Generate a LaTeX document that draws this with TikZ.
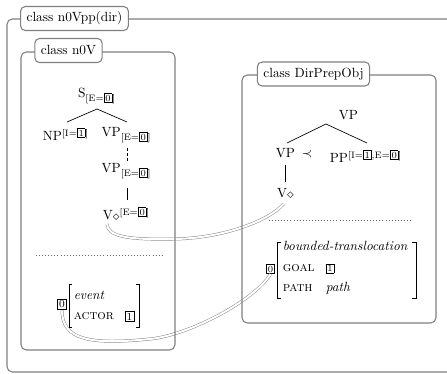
\documentclass[tikz,border=0pt]{standalone}
\usetikzlibrary{calc}
\newcommand{\tg}[1]{{\setlength{\fboxsep}{0.7pt}\setlength{\fboxrule}{0.5pt}\fbox{\scriptsize #1}}}
\newcommand{\tgb}[1]{{\setlength{\fboxsep}{0.9pt}\setlength{\fboxrule}{0.5pt}\fbox{\footnotesize #1}}}
\newcommand{\dmd}{\raisebox{-0.3pt}{$\diamond$}}
\begin{document}
\begin{tikzpicture}[x=0.75pt,y=-0.75pt,
  frame/.style={draw=black!50, line width=0.8pt, rounded corners=4pt},
  ttl/.style={draw=black!50, line width=0.8pt, rounded corners=3.5pt, fill=white, inner xsep=4.5pt, minimum height=18pt},
  lab/.style={inner sep=0pt},
  br/.style={line width=0.7pt},
  link/.style={draw=black!50, line width=0.35pt, double=white, double distance=1.5pt},
  sep/.style={draw=black!60, line width=0.6pt, dash pattern=on 0.6pt off 1.7pt},
  tline/.style={line width=0.5pt}]
\useasboundingbox (0,0) rectangle (447,374);

% connectors (links between the two classes)
\node[lab] (tagA) at (62,304.5) {\tgb{0}};
\node[lab] (tagB) at (270.5,269) {\tg{0}};
\node[lab, anchor=base] (v1) at (126.5,220) {V\dmd\textsuperscript{[E=\tg{0}]}};
\node[lab, anchor=base] (v2) at (285.5,198) {V\dmd};

\draw[link] ($(v1.base)+(-19.5,4)$) .. controls (108,236) and (125,240) .. (175,239)
   .. controls (225,238) and (270,220) .. ($(v2.base)+(-2,6)$);
\draw[link] (tagA.south) .. controls (62,340) and (90,345) .. (150,339)
   .. controls (190,335) and (255,300) .. (tagB.south);

% frames
\draw[frame] (7,19) rectangle (480,372);
\node[ttl] (t0) at (74.5,18.5) {class n0Vpp(dir)};
\draw[frame] (21,52) rectangle (175,350);
\node[ttl] (t1) at (68.5,50.5) {class n0V};
\draw[frame] (242,75) rectangle (436,323);
\node[ttl] (t2) at (313.5,74) {class DirPrepObj};

% tree 1
\node[lab, anchor=base] (s1) at (97,98) {S\textsubscript{[E=\tg{0}]}};
\node[lab, anchor=base] (np1) at (66,141) {NP\textsuperscript{[I=\tg{1}]}};
\node[lab, anchor=base] (vp1) at (126.5,137) {VP\textsubscript{[E=\tg{0}]}};
\node[lab, anchor=base] (vp2) at (126.5,173) {VP\textsubscript{[E=\tg{0}]}};
\draw[tline] ($(s1.base)+(0,11)$) -- ($(np1.base)+(1,-19)$);
\draw[tline] ($(s1.base)+(0,11)$) -- ($(vp1.base)+(0.5,-15)$);
\draw[tline, dash pattern=on 2.2pt off 1.6pt] ($(vp1.base)+(0.5,11)$) -- ($(vp2.base)+(0.5,-11)$);
\draw[tline] ($(vp2.base)+(0.5,15)$) -- ($(v1.base)+(0.5,-20)$);

\draw[sep] (36,255) -- (162,255);

% AVM 1
\draw[br] (72,284) -- (69,284) -- (69,327.5) -- (72,327.5);
\draw[br] (136,284) -- (139,284) -- (139,327.5) -- (136,327.5);
\node[lab, anchor=base west] (ev) at (73.5,300) {\textit{event}};
\node[lab, anchor=base west] (act) at (73.5,320) {\textsc{actor}};
\node[lab] (one1) at (129.5,316.5) {\tgb{1}};

% tree 2
\node[lab, anchor=base] (vpt) at (348.5,120) {VP};
\node[lab, anchor=base] (vpl) at (285.5,158) {VP};
\node[lab, anchor=base] (prec) at (307,157.5) {$\prec$};
\node[lab, anchor=base] (pp) at (366,163) {PP\textsuperscript{[I=\tg{1},E=\tg{0}]}};
\draw[tline] ($(vpt.base)+(-22.5,4)$) -- ($(vpl.base)+(1.5,-15)$);
\draw[tline] ($(vpt.base)+(-22.5,4)$) -- ($(pp.base)+(1,-20)$);
\draw[tline] ($(vpl.base)+(0,7)$) -- ($(v2.base)+(0,-16)$);

\draw[sep] (269,220) -- (412,220);

% AVM 2
\draw[br] (281,242) -- (277,242) -- (277,298) -- (281,298);
\draw[br] (412,242) -- (416,242) -- (416,298) -- (412,298);
\node[lab, anchor=base west] (bt) at (282.5,251) {\textit{bounded-translocation}};
\node[lab, anchor=base west] (goal) at (282.5,272) {\textsc{goal}};
\node[lab] (one2) at (330,268.5) {\tg{1}};
\node[lab, anchor=base west] (pathk) at (282.5,292) {\textsc{path}};
\node[lab, anchor=base west] (pathv) at (325.5,292) {\textit{path}};
\end{tikzpicture}
\end{document}
